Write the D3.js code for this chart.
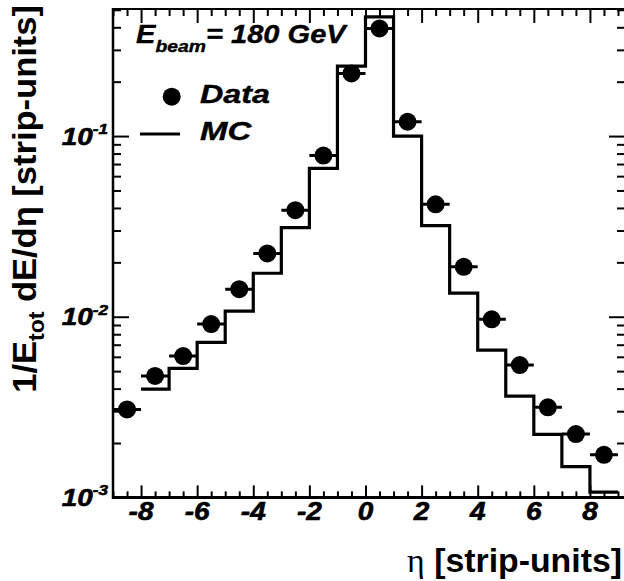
<!DOCTYPE html>
<html><head><meta charset="utf-8">
<script src="https://cdn.jsdelivr.net/npm/d3@7/dist/d3.min.js"></script>
<style>body{margin:0;background:#fff}svg{display:block}</style>
</head><body>
<svg id="chart" width="624" height="581"></svg>
<script>
// ---- data ----
const binCenters = [-8.5,-7.5,-6.5,-5.5,-4.5,-3.5,-2.5,-1.5,-0.5,0.5,1.5,2.5,3.5,4.5,5.5,6.5,7.5,8.5];
const dataValues = [3.07e-3,4.70e-3,6.06e-3,9.11e-3,1.42e-2,2.24e-2,3.89e-2,7.8e-2,0.222,0.394,0.120,4.19e-2,1.89e-2,9.67e-3,5.40e-3,3.15e-3,2.24e-3,1.72e-3];
const mcEdges = [-8,-7,-6,-5,-4,-3,-2,-1,0,1,2,3,4,5,6,7,8,9];
const mcValues = [3.97e-3,5.18e-3,7.22e-3,1.075e-2,1.74e-2,3.11e-2,6.63e-2,0.244,0.457,0.100,3.19e-2,1.35e-2,6.54e-3,3.64e-3,2.23e-3,1.48e-3,1.07e-3];
const xMajorTicks = [-8,-6,-4,-2,0,2,4,6,8];
const xTickLabels = ["-8","-6","-4","-2","0","2","4","6","8"];
const yMajorTicks = [1e-3,1e-2,1e-1];
const yTickExponents = ["-3","-2","-1"];
const xDomain = [-9, 9.25];
const yDomain = [1e-3, 0.505];
const beamLabel = {main:"E", sub:"beam", rest:"= 180 GeV"};
const legendLabels = ["Data","MC"];
const xTitle = {sym:"\u03b7", rest:" [strip-units]"};

// ---- layout ----
const W = 624, H = 581;
const L = 113, R = 625, T = 9, B = 497.4;
const svg = d3.select("#chart");
const x = d3.scaleLinear().domain(xDomain).range([L, R]);
const y = d3.scaleLog().domain(yDomain).range([B, T]);
const SANS = "'Liberation Sans', Arial, Helvetica, sans-serif";

svg.append("rect").attr("width", W).attr("height", H).attr("fill", "#fff");

svg.append("defs").append("clipPath").attr("id","clip")
  .append("rect").attr("x", L).attr("y", T).attr("width", R - L).attr("height", B - T);

const xMinor = d3.range(-9, 9.01, 0.5).filter(v => !xMajorTicks.includes(v));
const yMinor = [];
[1e-3,1e-2,1e-1].forEach(d => { for (let k = 2; k <= 9; k++) { const v = d*k; if (v <= yDomain[1]) yMinor.push(v); } });

function styleAxis(g){
  g.select(".domain").remove();
  g.selectAll("line").attr("stroke","#000").attr("stroke-width",2);
  g.selectAll("text").remove();
}
svg.append("g").attr("transform",`translate(0,${B})`).call(d3.axisBottom(x).tickValues(xMajorTicks).tickSize(-12).tickFormat("")).call(styleAxis);
svg.append("g").attr("transform",`translate(0,${B})`).call(d3.axisBottom(x).tickValues(xMinor).tickSize(-6).tickFormat("")).call(styleAxis);
svg.append("g").attr("transform",`translate(0,${T})`).call(d3.axisTop(x).tickValues(xMajorTicks).tickSize(-14).tickFormat("")).call(styleAxis);
svg.append("g").attr("transform",`translate(0,${T})`).call(d3.axisTop(x).tickValues(xMinor).tickSize(-7).tickFormat("")).call(styleAxis);
svg.append("g").attr("transform",`translate(${L},0)`).call(d3.axisLeft(y).tickValues(yMajorTicks).tickSize(-16).tickFormat("")).call(styleAxis);
svg.append("g").attr("transform",`translate(${L},0)`).call(d3.axisLeft(y).tickValues(yMinor).tickSize(-8).tickFormat("")).call(styleAxis);
svg.append("g").attr("transform",`translate(${R},0)`).call(d3.axisRight(y).tickValues(yMajorTicks).tickSize(-16).tickFormat("")).call(styleAxis);
svg.append("g").attr("transform",`translate(${R},0)`).call(d3.axisRight(y).tickValues(yMinor).tickSize(-8).tickFormat("")).call(styleAxis);

svg.append("line").attr("x1",L).attr("x2",R+2).attr("y1",T).attr("y2",T).attr("stroke","#000").attr("stroke-width",2);
svg.append("line").attr("x1",L).attr("x2",L).attr("y1",T-1).attr("y2",B+1.5).attr("stroke","#000").attr("stroke-width",2.5);
svg.append("line").attr("x1",L-1).attr("x2",R+2).attr("y1",B).attr("y2",B).attr("stroke","#000").attr("stroke-width",3);

const plot = svg.append("g").attr("clip-path","url(#clip)");

const mcPts = [];
mcValues.forEach((v,i) => { mcPts.push([mcEdges[i], v]); mcPts.push([mcEdges[i+1], v]); });
plot.append("path").datum(mcPts)
  .attr("d", d3.line().x(d => x(d[0])).y(d => y(d[1])))
  .attr("fill","none").attr("stroke","#000").attr("stroke-width",3.2).attr("stroke-linejoin","miter");

const pts = binCenters.map((c,i) => ({c, v: dataValues[i]}));
plot.selectAll(".eb").data(pts).enter().append("line")
  .attr("x1", d => x(d.c - 0.5)).attr("x2", d => x(d.c + 0.5))
  .attr("y1", d => y(d.v)).attr("y2", d => y(d.v))
  .attr("stroke","#000").attr("stroke-width",3);
plot.selectAll(".mk").data(pts).enter().append("circle")
  .attr("cx", d => x(d.c)).attr("cy", d => y(d.v)).attr("r", 9).attr("fill","#000");

function stretchedText(px, py, anchor, size, style, target, rot, build, sdef, sw){
  const g = svg.append("g");
  const t = g.append("text").attr("x",0).attr("y",0).attr("text-anchor",anchor)
    .attr("font-family",SANS).attr("font-weight","bold").attr("font-style",style)
    .attr("font-size",size).attr("fill","#000");
  if (sw) t.attr("stroke","#000").attr("stroke-width",sw).attr("stroke-linejoin","round");
  build(t);
  const w = t.node().getBBox().width;
  const s = target ? target / w : (sdef || 1);
  g.attr("transform",`translate(${px},${py})${rot?` rotate(${rot})`:""} scale(${s},1)`);
  return g;
}

xMajorTicks.forEach((v,i) => {
  stretchedText(x(v), 520, "middle", 25, "italic", null, 0, t => t.text(xTickLabels[i]), 1.12, 0.6);
});
yMajorTicks.forEach((v,i) => {
  stretchedText(108, y(v) + 8.5, "end", 24.5, "italic", null, 0, t => {
    t.append("tspan").text("10");
    t.append("tspan").attr("font-size",15).attr("dy",-10.5).text(yTickExponents[i]);
  }, 1.14, 0.6);
});

stretchedText(136, 43.3, "start", 25.5, "italic", 212, 0, t => {
  t.append("tspan").text(beamLabel.main);
  t.append("tspan").attr("font-size",17).attr("dy",9).text(beamLabel.sub);
  t.append("tspan").attr("dy",-9).text(beamLabel.rest);
}, null, 0.4);

svg.append("circle").attr("cx",171.7).attr("cy",96.7).attr("r",9).attr("fill","#000");
svg.append("line").attr("x1",140).attr("x2",180).attr("y1",134).attr("y2",134).attr("stroke","#000").attr("stroke-width",3.2);
stretchedText(200, 103.3, "start", 25.5, "italic", 70, 0, t => t.text(legendLabels[0]), null, 0.4);
stretchedText(200, 140, "start", 25.5, "italic", 52, 0, t => t.text(legendLabels[1]), null, 0.4);

stretchedText(36, 5, "end", 33, "normal", 388, -90, t => {
  t.append("tspan").text("1/E");
  t.append("tspan").attr("font-size",22).attr("dy",8).text("tot");
  t.append("tspan").attr("dy",-8).text(" dE/d\u03b7 [strip-units]");
});

stretchedText(622, 571.7, "end", 33, "normal", 215, 0, t => {
  t.append("tspan").attr("font-family","'Liberation Serif','DejaVu Serif',serif").attr("font-weight","normal").text(xTitle.sym);
  t.append("tspan").text(xTitle.rest);
});
</script>
</body></html>
